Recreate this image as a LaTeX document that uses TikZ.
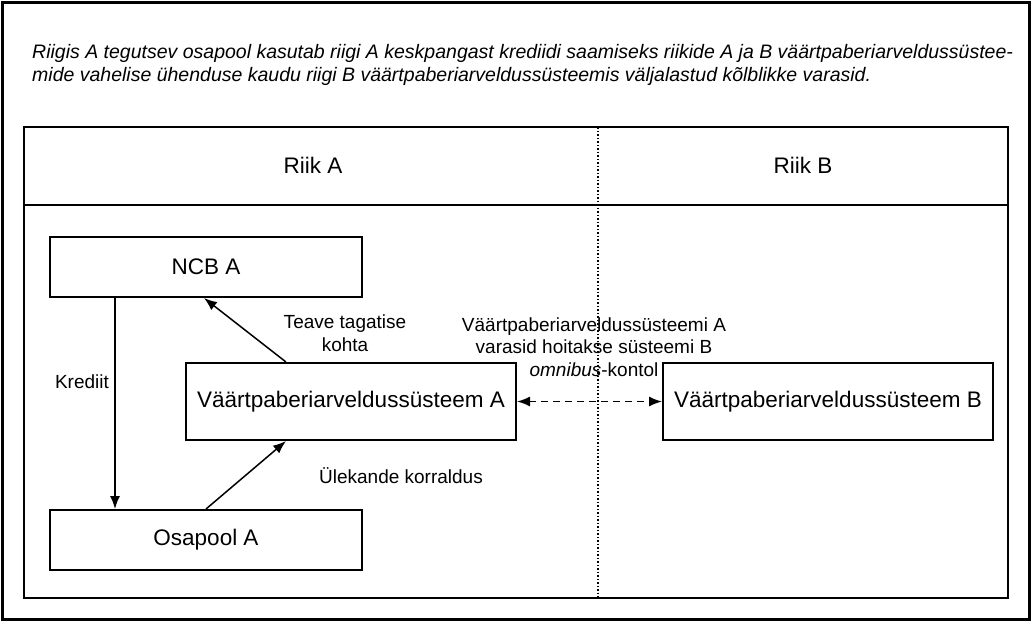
\documentclass[tikz,border=0pt]{standalone}
\usepackage{fontspec}
\setmainfont{Liberation Sans}
\usetikzlibrary{arrows.meta}

\tikzset{
  box/.style={draw, line width=2pt, minimum width=312, minimum height=60, inner sep=0pt, font=\fontsize{22.5}{27}\selectfont},
  lbl/.style={align=center, inner sep=0pt, font=\fontsize{19}{22.5}\selectfont},
  arr/.style={line width=1.5pt, -{Latex[length=13pt,width=10pt]}},
}

\begin{document}
\begin{tikzpicture}[x=1pt, y=-1pt]
        \useasboundingbox (0,0) rectangle (1032,622);
        % frame
        \draw[line width=3pt] (2,2) rectangle (1029,619);
        \node[anchor=base west, align=left, inner sep=0pt, font=\itshape\fontsize{19.5}{23}\selectfont] (title) at (32,81)
          {Riigis A tegutsev osapool kasutab riigi A keskpangast krediidi saamiseks riikide A ja B väärtpaberiarveldussüstee-\\
           mide vahelise ühenduse kaudu riigi B väärtpaberiarveldussüsteemis väljalastud kõlblikke varasid.};
        % table
        \draw[line width=2pt] (24,127) rectangle (1008,598);
        \draw[line width=2pt] (24,205) -- (1008,205);
        \draw[line width=1.5pt, dotted] (598,127) -- (598,598);
        \node[font=\fontsize{22.5}{27}\selectfont] (riikA) at (313,165) {Riik A};
        \node[font=\fontsize{22.5}{27}\selectfont] (riikB) at (803,165) {Riik B};
        % Boxes
        \node[box] (ncb) at (206,267) {NCB A};
        \node[box, minimum width=330, minimum height=77] (sysA) at (351,401.5) {Väärtpaberiarveldussüsteem A};
        \node[box, minimum width=330, minimum height=77] (sysB) at (828,401.5) {Väärtpaberiarveldussüsteem B};
        \node[box] (osapool) at (206,540) {Osapool A};
        % Krediit
        \draw[arr] ([xshift=66]ncb.south west) -- ([xshift=66]osapool.north west);
        \node[lbl] (krediit) at (82,382) {Krediit};
        % Teave
        \draw[arr] ([xshift=101]sysA.north west) -- ([xshift=155]ncb.south west);
        \node[lbl] (teave) at (345,333) {Teave tagatise\\kohta};
        % Ulekanne
        \draw[arr] ([xshift=157]osapool.north west) -- ([xshift=101]sysA.south west);
        \node[lbl] (ulek) at (401,476) {Ülekande korraldus};
        % omnibus
        \draw[arr, {Latex[length=13pt,width=10pt]}-{Latex[length=13pt,width=10pt]}, dash pattern=on 7pt off 5pt] (sysA.east) -- (sysB.west);
        \node[lbl] (omni) at (594,347) {Väärtpaberiarveldussüsteemi A\\varasid hoitakse süsteemi B\\\textit{omnibus}-kontol};
\end{tikzpicture}
\end{document}
